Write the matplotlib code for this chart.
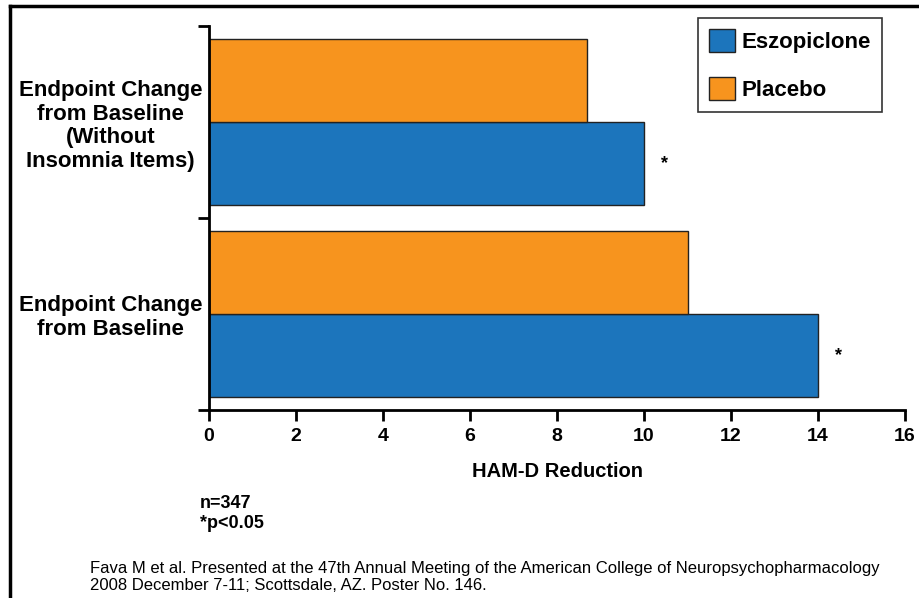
import matplotlib.pyplot as plt
from matplotlib.lines import Line2D
import numpy as np

plt.rcParams['font.family'] = ['Liberation Sans', 'DejaVu Sans']

# data (bottom category first)
categories = ['Endpoint Change\nfrom Baseline',
              'Endpoint Change\nfrom Baseline\n(Without\nInsomnia Items)']
eszopiclone = [14.0, 10.0]
placebo = [11.0, 8.7]
significant = [True, True]
xticks = [0, 2, 4, 6, 8, 10, 12, 14, 16]

blue = '#1c75bc'
orange = '#f7941e'

fig = plt.figure(figsize=(9.2, 5.98), dpi=100)
ax = fig.add_axes([0.2272, 0.3144, 0.7565, 0.6421])

y = np.arange(len(categories))
h = 0.43
ax.barh(y - h / 2, eszopiclone, height=h, color=blue, edgecolor='#222222',
        linewidth=1, label='Eszopiclone')
ax.barh(y + h / 2, placebo, height=h, color=orange, edgecolor='#222222',
        linewidth=1, label='Placebo')

for yi, v, s in zip(y, eszopiclone, significant):
    if s:
        ax.annotate('*', (v, yi - h / 2), xytext=(15, 0), textcoords='offset points',
                    ha='center', va='center', fontsize=13, fontweight='bold')

ax.set_xlim(0, 16)
ax.set_ylim(-0.5, len(categories) - 0.5)
ax.set_xticks(xticks)
ax.set_xticklabels([str(t) for t in xticks], fontsize=14, fontweight='bold')
ax.set_yticks(y)
ax.set_yticklabels(categories, fontsize=16, fontweight='bold',
                   multialignment='center', linespacing=1.18)
ax.set_yticks(np.arange(len(categories) + 1) - 0.5, minor=True)
ax.tick_params(axis='y', which='major', length=0, pad=5)
ax.tick_params(axis='y', which='minor', length=8, width=2, direction='out')
ax.tick_params(axis='x', length=8, width=2, direction='out', pad=5)

for sp in ['top', 'right']:
    ax.spines[sp].set_visible(False)
for sp in ['left', 'bottom']:
    ax.spines[sp].set_linewidth(2)

ax.set_xlabel('HAM-D Reduction', fontsize=14.5, fontweight='bold', labelpad=12)

handles, labels = ax.get_legend_handles_labels()
leg = fig.legend(handles, labels, loc='upper left', bbox_to_anchor=(698 / 920, 1 - 18 / 598),
                 prop={'size': 16, 'weight': 'bold'}, frameon=True, fancybox=False,
                 edgecolor='black', handlelength=1.15, handleheight=1.2,
                 labelspacing=1.1, borderpad=0.5, handletextpad=0.3, borderaxespad=0)
leg.get_frame().set_linewidth(1.2)

fig.text(200 / 920, 1 - 503 / 598, 'n=347', fontsize=13, fontweight='bold', va='center')
fig.text(200 / 920, 1 - 523 / 598, '*p<0.05', fontsize=13, fontweight='bold', va='center')
fig.text(90 / 920, 1 - 568 / 598,
         'Fava M et al. Presented at the 47th Annual Meeting of the American College of Neuropsychopharmacology',
         fontsize=12, va='center')
fig.text(90 / 920, 1 - 585 / 598, '2008 December 7-11; Scottsdale, AZ. Poster No. 146.',
         fontsize=12, va='center')

# outer frame (top and left edges)
fig.add_artist(Line2D([10 / 920, 10 / 920], [0, 1 - 6 / 598], color='black', lw=2.5,
                      transform=fig.transFigure))
fig.add_artist(Line2D([10 / 920, 1], [1 - 6 / 598, 1 - 6 / 598], color='black', lw=2.5,
                      transform=fig.transFigure))

fig.savefig('out.png', dpi=100)
